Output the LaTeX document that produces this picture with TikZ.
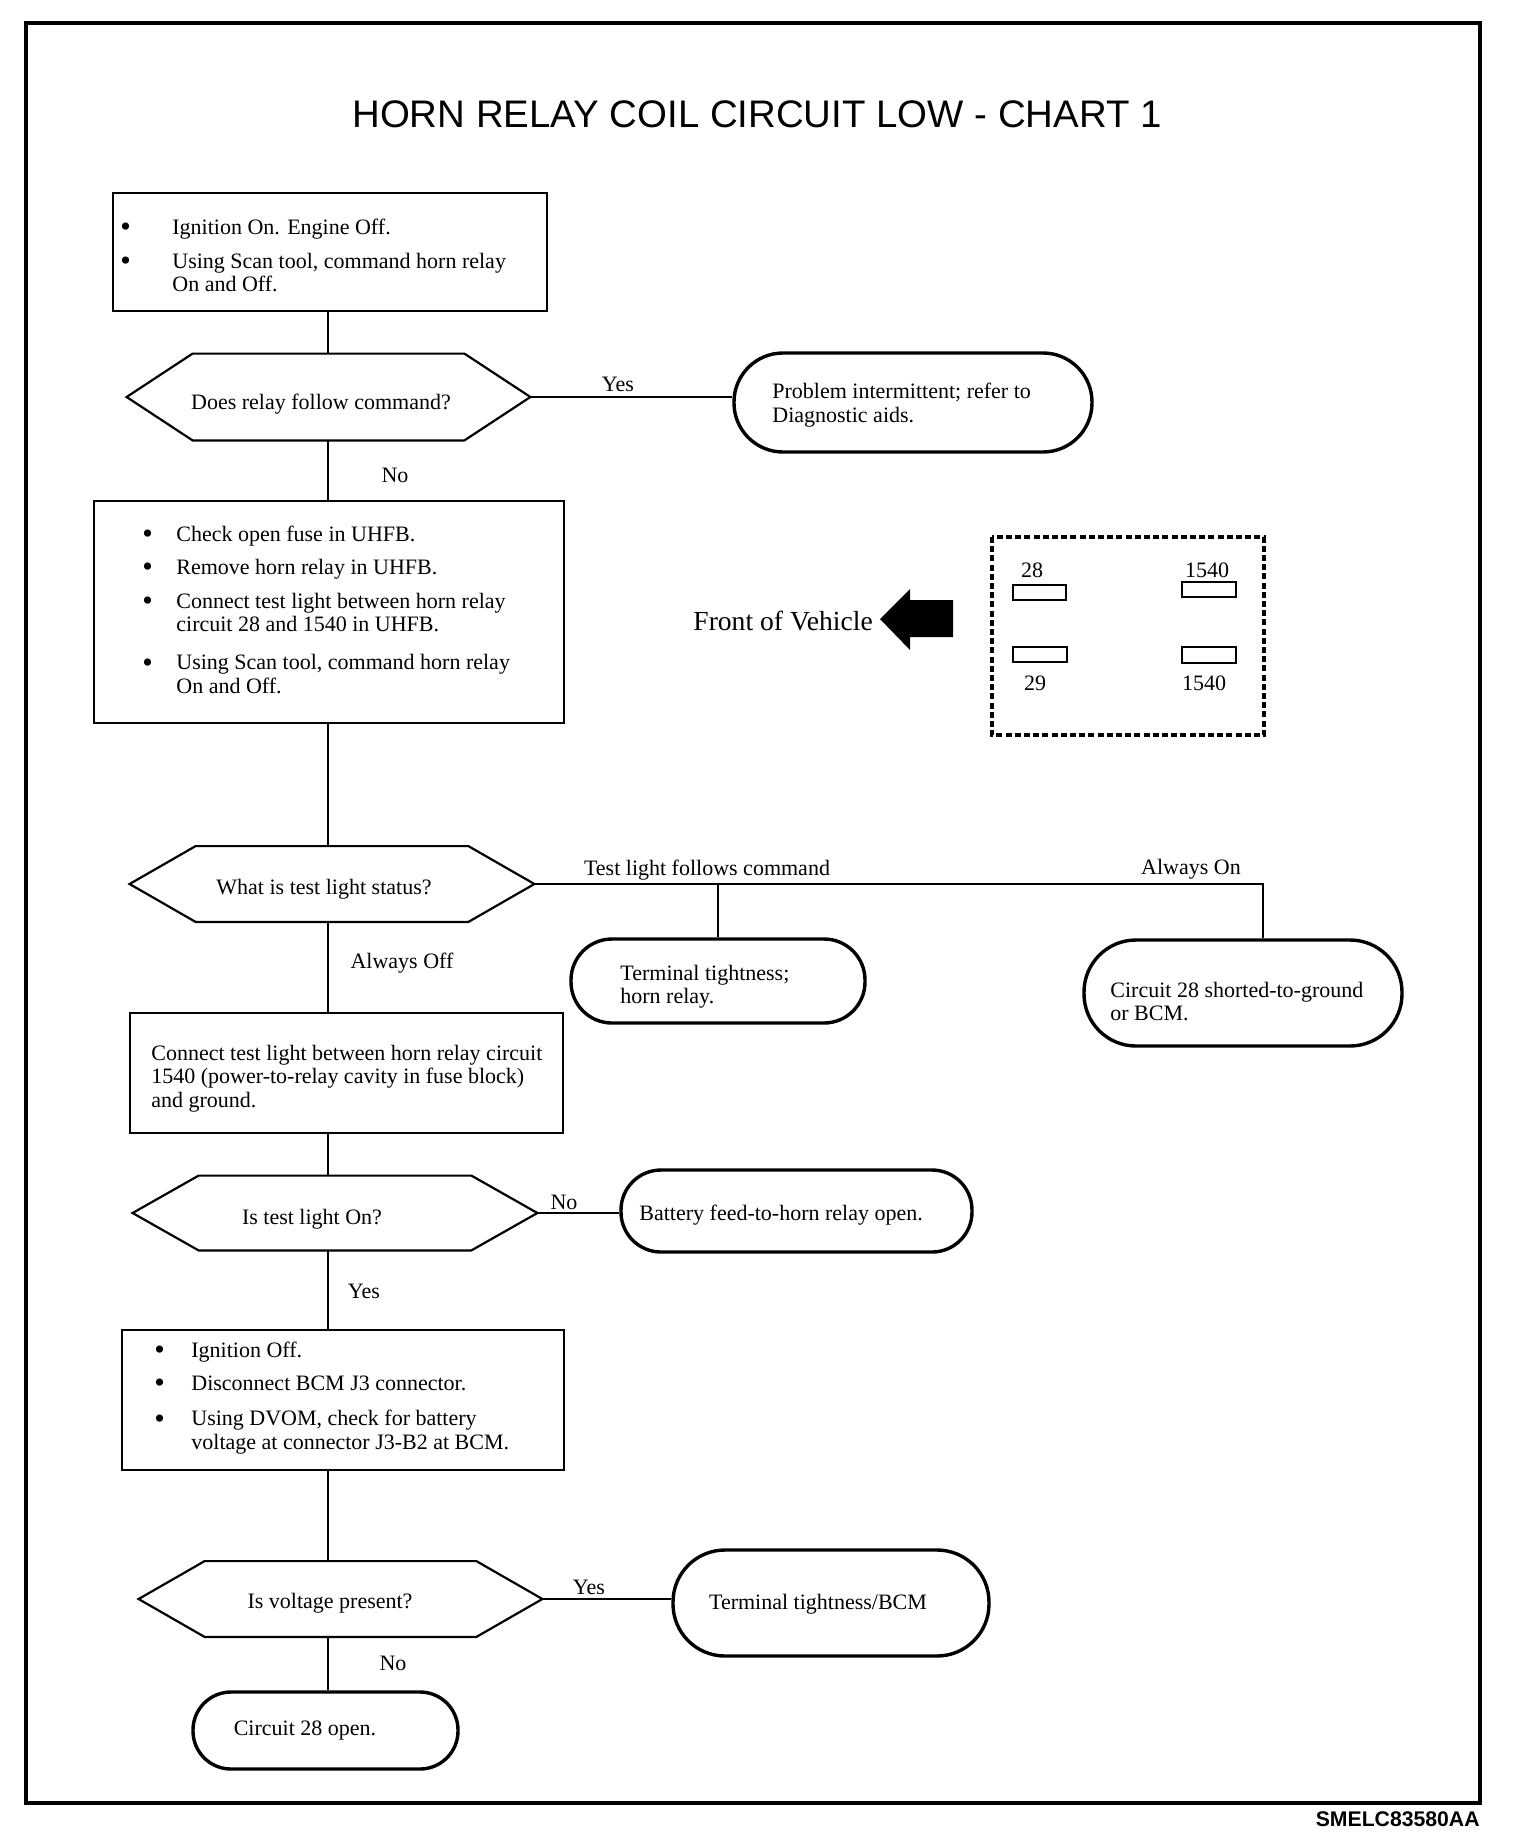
\documentclass[tikz,border=0pt]{standalone}
\usepackage{fontspec}
\setmainfont{Liberation Serif}
\newfontfamily\titlefont{Liberation Sans}
\usetikzlibrary{calc}
\tikzset{
  box/.style={draw, line width=1.4pt, inner sep=0pt},
  hexbox/.style={inner sep=0pt},
  hexline/.style={line width=1.1pt},
  term/.style={draw, line width=1.7pt, inner sep=0pt},
  conn/.style={line width=0.9pt},
  txt/.style={inner sep=0pt, font=\fontsize{11}{11.8}\selectfont},
  slot/.style={draw, line width=1pt, inner sep=0pt},
}
\newcommand{\hexpath}[2]{\draw[hexline] (#1.west) -- ($(#1.north west)+(#2,0)$) -- ($(#1.north east)+(-#2,0)$) -- (#1.east) -- ($(#1.south east)+(-#2,0)$) -- ($(#1.south west)+(#2,0)$) -- cycle;}
\newcommand{\bul}[1]{\makebox[#1][l]{\raisebox{-1.3pt}{\fontsize{15}{12}\selectfont\textbullet}}}
\begin{document}
\begin{tikzpicture}[x=0.5pt,y=-0.5pt]
\useasboundingbox (0,0) rectangle (1520,1848);
\fill[white] (0,0) rectangle (1520,1848);
\draw[line width=2.2pt] (26,23) rectangle (1480,1803);

\node[font=\titlefont\fontsize{19.2}{23}\selectfont, inner sep=0pt] (title) at (757,114) {HORN RELAY COIL CIRCUIT LOW - CHART 1};
\node[font=\titlefont\bfseries\fontsize{10.6}{12}\selectfont, inner sep=0pt, anchor=east] (code) at (1480,1819) {SMELC83580AA};

% column for vertical connectors
\coordinate (col) at (328,0);

% box 1
\node[box, minimum width=217pt, minimum height=59pt] (b1) at (330,252) {};
\node[txt, anchor=base west] (b1t) at (120,234) {\begin{tabular}[t]{@{}l@{}l@{}}\bul{26pt} & Ignition On. Engine Off.\\[5.3pt] \bul{26pt} & Using Scan tool, command horn relay\\ & On and Off.\end{tabular}};

% decision 1
\node[hexbox, minimum width=201.5pt, minimum height=43pt] (d1) at (328.5,397) {};
\hexpath{d1}{66}
\node[txt, anchor=base] (d1t) at (321,409) {Does relay follow command?};

% terminal 1
\node[term, minimum width=179pt, minimum height=49.5pt, rounded corners=24.5pt] (t1) at (913,402.5) {};
\node[txt, anchor=base west] (t1t) at (772,398) {\begin{tabular}[t]{@{}l@{}}Problem intermittent; refer to\\[0.6pt] Diagnostic aids.\end{tabular}};
\node[txt, anchor=base] (yes1) at (618,391) {Yes};
\node[txt, anchor=base] (no1) at (395,482) {No};

% box 2
\node[box, minimum width=235pt, minimum height=111pt] (b2) at (329,612) {};
\node[txt, anchor=base west] (b2t) at (142,541) {\begin{tabular}[t]{@{}l@{}l@{}}\bul{17pt} & Check open fuse in UHFB.\\[4.7pt] \bul{17pt} & Remove horn relay in UHFB.\\[5.3pt] \bul{17pt} & Connect test light between horn relay\\ & circuit 28 and 1540 in UHFB.\\[7pt] \bul{17pt} & Using Scan tool, command horn relay\\ & On and Off.\end{tabular}};

% front of vehicle
\node[inner sep=0pt, font=\fontsize{13.8}{16}\selectfont, anchor=base west] (fov) at (693,630) {Front of Vehicle};
\fill (880,619) -- (910,589) -- (910,600) -- (953,600) -- (953,637) -- (910,637) -- (910,650) -- cycle;
\draw[line width=1.7pt, dash pattern=on 3pt off 1.6pt] (992,537) rectangle (1264,735);
\node[slot, minimum width=26.5pt, minimum height=7.5pt] (s28) at (1039.5,592.5) {};
\node[slot, minimum width=27pt, minimum height=7.5pt] (s1540a) at (1209,589.5) {};
\node[slot, minimum width=27pt, minimum height=7.5pt] (s29) at (1040,654.5) {};
\node[slot, minimum width=27pt, minimum height=8pt] (s1540b) at (1209,655) {};
\node[txt] (l28) at (1032,570) {28};
\node[txt] (l1540a) at (1207,570) {1540};
\node[txt] (l29) at (1035,683) {29};
\node[txt] (l1540b) at (1204,683) {1540};

% decision 2
\node[hexbox, minimum width=202pt, minimum height=37.5pt] (d2) at (332,884) {};
\hexpath{d2}{66}
\node[txt, anchor=base] (d2t) at (324,894) {What is test light status?};
\node[txt, anchor=base] (tlf) at (707,875) {Test light follows command};
\node[txt, anchor=base] (aon) at (1191,874) {Always On};
\node[txt, anchor=base] (aoff) at (402,968) {Always Off};
\coordinate (c3) at (1263,884);

% terminal 2,3
\node[term, minimum width=147pt, minimum height=42pt, rounded corners=20.5pt] (t2) at (718,981) {};
\node[txt, anchor=base west] (t2t) at (620,980) {\begin{tabular}[t]{@{}l@{}}Terminal tightness;\\ horn relay.\end{tabular}};
\node[term, minimum width=159pt, minimum height=53pt, rounded corners=26pt] (t3) at (1243,993) {};
\node[txt, anchor=base west] (t3t) at (1110,997) {\begin{tabular}[t]{@{}l@{}}Circuit 28 shorted-to-ground\\ or BCM.\end{tabular}};

% box 3
\node[box, minimum width=216.5pt, minimum height=60pt] (b3) at (346.5,1073) {};
\node[txt, anchor=base west] (b3t) at (151,1060) {\begin{tabular}[t]{@{}l@{}}Connect test light between horn relay circuit\\ 1540 (power-to-relay cavity in fuse block)\\ and ground.\end{tabular}};

% decision 3
\node[hexbox, minimum width=202pt, minimum height=37pt] (d3) at (335,1213) {};
\hexpath{d3}{66}
\node[txt, anchor=base] (d3t) at (312,1224) {Is test light On?};
\node[txt, anchor=base] (no3) at (564,1209) {No};
\node[term, minimum width=175.5pt, minimum height=41pt, rounded corners=20pt] (t4) at (796.5,1211) {};
\node[txt, anchor=base west] (t4t) at (639,1220) {Battery feed-to-horn relay open.};
\node[txt, anchor=base] (yes3) at (364,1298) {Yes};

% box 4
\node[box, minimum width=221pt, minimum height=70pt] (b4) at (343,1400) {};
\node[txt, anchor=base west] (b4t) at (154,1357) {\begin{tabular}[t]{@{}l@{}l@{}}\bul{18.5pt} & Ignition Off.\\[4.7pt] \bul{18.5pt} & Disconnect BCM J3 connector.\\[5.9pt] \bul{18.5pt} & Using DVOM, check for battery\\ & voltage at connector J3-B2 at BCM.\end{tabular}};

% decision 4
\node[hexbox, minimum width=201.5pt, minimum height=37.5pt] (d4) at (340.5,1599) {};
\hexpath{d4}{66}
\node[txt, anchor=base] (d4t) at (330,1608) {Is voltage present?};
\node[txt, anchor=base] (yes4) at (589,1594) {Yes};
\node[term, minimum width=158pt, minimum height=53pt, rounded corners=26pt] (t5) at (831,1603) {};
\node[txt, anchor=base] (t5t) at (818,1609) {Terminal tightness/BCM};
\node[txt, anchor=base] (no4) at (393,1670) {No};
\node[term, minimum width=132.5pt, minimum height=38.5pt, rounded corners=19pt] (t6) at (325.5,1730.5) {};
\node[txt, anchor=base] (t6t) at (305,1735) {Circuit 28 open.};

% connectors
\draw[conn] (b1.south -| col) -- (d1.north -| col);
\draw[conn] (d1.east) -- (d1.east -| t1.west);
\draw[conn] (d1.south -| col) -- (b2.north -| col);
\draw[conn] (b2.south -| col) -- (d2.north -| col);
\draw[conn] (d2.east) -- (c3) -- (c3 |- t3.north);
\draw[conn] (t2.north |- d2.east) -- (t2.north);
\draw[conn] (d2.south -| col) -- (b3.north -| col);
\draw[conn] (b3.south -| col) -- (d3.north -| col);
\draw[conn] (d3.east) -- (d3.east -| t4.west);
\draw[conn] (d3.south -| col) -- (b4.north -| col);
\draw[conn] (b4.south -| col) -- (d4.north -| col);
\draw[conn] (d4.east) -- (d4.east -| t5.west);
\draw[conn] (d4.south -| col) -- (t6.north -| col);
\end{tikzpicture}
\end{document}
